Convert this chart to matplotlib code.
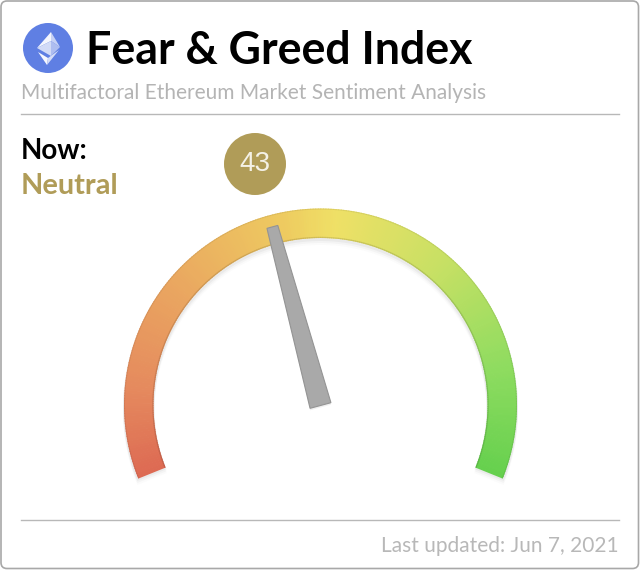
import numpy as np
import matplotlib
matplotlib.use("Agg")
import matplotlib.pyplot as plt
from matplotlib.patches import Polygon, Circle, FancyBboxPatch
from matplotlib.colors import LinearSegmentedColormap

# Content
title = "Fear & Greed Index"
subtitle = "Multifactoral Ethereum Market Sentiment Analysis"
now_label = "Now:"
status_label = "Neutral"
updated_label = "Last updated: Jun 7, 2021"
index_value = 43
scale_min, scale_max = 0, 100
gauge_stops = [0.0, 0.12, 0.28, 0.45, 0.52, 0.68, 0.85, 1.0]
gauge_colors = ["#dd6a53", "#e58a5e", "#eaa860", "#eecb60", "#efe066", "#c8e064", "#8fdc60", "#66d04e"]

plt.rcParams["font.family"] = ["Lato", "DejaVu Sans"]
W, H = 640, 570
fig = plt.figure(figsize=(W / 100, H / 100), dpi=100, facecolor="white")
ax = fig.add_axes([0, 0, 1, 1])
ax.set_xlim(0, W)
ax.set_ylim(H, 0)
ax.axis("off")

ax.add_patch(FancyBboxPatch((1, 1), W - 2.5, H - 2.5, boxstyle="round,pad=0,rounding_size=6",
                            fc="white", ec="#a8a8a8", lw=1.2))

# Ethereum icon
ax.add_patch(Circle((48, 48), 25, fc="#5f7fe3", ec="none"))
ax.add_patch(Polygon([(51, 32), (37, 48), (51, 41)], fc="#f4f6fd", ec="none"))
ax.add_patch(Polygon([(51, 32), (60, 47), (51, 41)], fc="#c6d1f5", ec="none"))
ax.add_patch(Polygon([(37, 48), (51, 41), (51, 56)], fc="#d2dbf7", ec="none"))
ax.add_patch(Polygon([(51, 41), (60, 47), (51, 56)], fc="#aebdf0", ec="none"))
ax.add_patch(Polygon([(38, 52), (47, 65), (48, 58)], fc="#f7f8fe", ec="none"))
ax.add_patch(Polygon([(48, 58), (47, 65), (59, 50)], fc="#d5ddf8", ec="none"))

# Text
ax.text(86, 51, title, fontsize=32.1, fontweight="bold", color="black", va="center", ha="left")
ax.text(21, 93, subtitle, fontsize=15.05, color="#b4b4b4", va="center", ha="left")
ax.text(21, 151, now_label, fontsize=20, fontweight="bold", color="black", va="center", ha="left")
ax.text(21, 186, status_label, fontsize=20.8, fontweight="bold", color="#b09c58", va="center", ha="left")
ax.text(619, 546, updated_label, fontsize=15, color="#b8b8b8", va="center", ha="right")

# Rules
ax.plot([21, 619], [114, 114], color="#b8b8b8", lw=1)
ax.plot([21, 619], [520, 520], color="#b8b8b8", lw=1)

# Value badge
ax.add_patch(Circle((255, 164), 31, fc="#b09c58", ec="none"))
ax.text(255, 164, str(index_value), fontsize=20, color="#f4f1e6", family=["Liberation Sans"], va="center", ha="center")

# Gauge (y axis is inverted in pixel space, so angle is handled explicitly)
cx, cy = 320.5, 405.0
r_out, r_in = 196.5, 167.0
a_start, a_end = 202.0, -22.0
cmap = LinearSegmentedColormap.from_list("gauge", list(zip(gauge_stops, gauge_colors)))


def arc(t0, t1, ro, ri, dx=0, dy=0, n=40):
    th = np.radians(np.linspace(a_start + (a_end - a_start) * t0, a_start + (a_end - a_start) * t1, n))
    outer = np.c_[cx + dx + ro * np.cos(th), cy + dy - ro * np.sin(th)]
    inner = np.c_[cx + dx + ri * np.cos(th[::-1]), cy + dy - ri * np.sin(th[::-1])]
    return np.vstack([outer, inner])


# soft shadow
for off, alpha in [(6, 0.02), (4, 0.04), (2, 0.06)]:
    ax.add_patch(Polygon(arc(0, 1, r_out + 1, r_in - 1, dy=off, n=200), fc="#555555", alpha=alpha, ec="none"))

segments = 300
for i in range(segments):
    t0, t1 = i / segments, (i + 1.3) / segments
    ax.add_patch(Polygon(arc(t0, min(t1, 1), r_out, r_in, n=4), fc=cmap((i + 0.5) / segments), ec="none"))

# darker rims
for i in range(segments):
    t0, t1 = i / segments, (i + 1.2) / segments
    c = np.array(cmap((i + 0.5) / segments)[:3]) * 0.8
    ax.add_patch(Polygon(arc(t0, min(t1, 1), r_in + 1.2, r_in, n=3), fc=tuple(c), ec="none", alpha=0.55))
    ax.add_patch(Polygon(arc(t0, min(t1, 1), r_out, r_out - 1, n=3), fc=tuple(c), ec="none", alpha=0.3))

# Needle
frac = (index_value - scale_min) / (scale_max - scale_min)
ang = np.radians(a_start + (a_end - a_start) * frac - 0.6)
u = np.array([np.cos(ang), -np.sin(ang)])
v = np.array([-u[1], u[0]])
base = np.array([cx, cy + 0.5])
tip = base + u * 185
needle = [base + v * 10.8, tip + v * 5.6, tip - v * 5.6, base - v * 10.8]
ax.add_patch(Polygon([p + np.array([0, 2]) for p in needle], fc="#666666", alpha=0.1, ec="none"))
ax.add_patch(Polygon(needle, fc="#a9a9a9", ec="#949494", lw=0.8))

fig.savefig("out.png", dpi=100, facecolor="white")
